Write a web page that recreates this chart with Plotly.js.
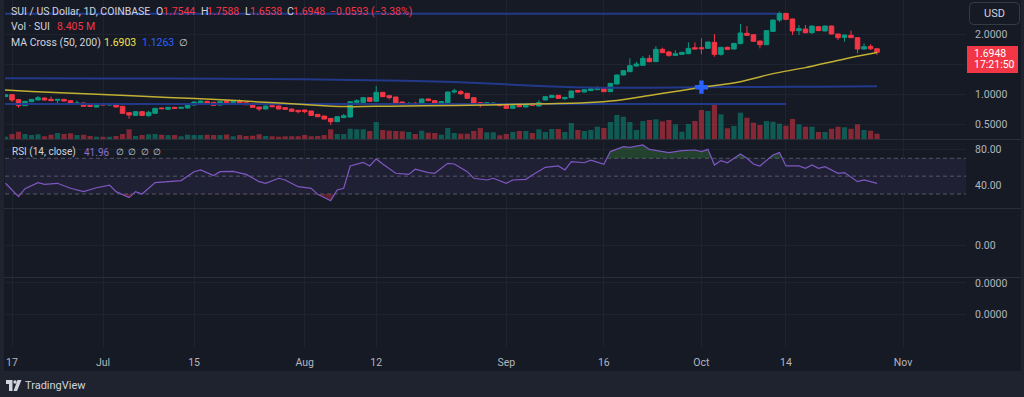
<!DOCTYPE html>
<html><head><meta charset="utf-8">
<script src="https://cdn.plot.ly/plotly-3.0.1.min.js"></script>
<style>html,body{margin:0;padding:0;background:#1f2330;overflow:hidden}#chart{width:1024px;height:397px}</style>
</head><body><div id="chart"></div>
<script>
// ---------- data ----------
const candleStartDay = -1; // first candle = 2024-06-16 (day offsets from 2024-06-17)
const open = [
0.956,0.989,0.906,0.806,0.872,0.900,0.933,0.911,0.895,0.911,
0.889,0.839,0.850,0.811,0.783,0.839,0.817,0.839,0.795,0.689,
0.644,0.706,0.639,0.678,0.767,0.745,0.778,0.761,0.767,0.817,
0.845,0.878,0.861,0.817,0.889,0.861,0.878,0.856,0.833,0.783,
0.750,0.806,0.800,0.772,0.750,0.728,0.733,0.717,0.661,0.633,
0.594,0.539,0.606,0.617,0.861,0.861,0.939,0.878,1.028,0.972,
0.950,0.867,0.822,0.845,0.833,0.917,0.889,0.856,0.856,1.033,
1.039,1.011,0.939,0.856,0.833,0.822,0.839,0.811,0.761,0.817,
0.783,0.833,0.800,0.900,0.944,0.978,0.922,0.939,1.061,1.033,
1.056,1.072,1.089,1.039,1.167,1.317,1.372,1.467,1.478,1.594,
1.539,1.744,1.700,1.644,1.661,1.672,1.772,1.772,1.761,1.861,
1.661,1.778,1.750,1.839,2.011,1.989,1.883,1.822,2.044,2.233,
2.344,2.250,2.056,2.083,2.022,2.122,2.050,2.133,2.000,1.944,
1.978,1.939,1.750,1.794,1.7544];
const high = [
0.995,1.000,0.910,0.885,0.917,0.967,0.945,0.956,0.917,0.917,
0.895,0.889,0.856,0.839,0.845,0.845,0.845,0.845,0.800,0.695,
0.710,0.710,0.720,0.767,0.778,0.789,0.783,0.783,0.830,0.872,
0.895,0.889,0.867,0.885,0.895,0.889,0.911,0.860,0.840,0.789,
0.806,0.817,0.806,0.780,0.756,0.733,0.739,0.720,0.667,0.639,
0.600,0.628,0.667,0.878,0.911,0.945,0.945,1.133,1.035,0.978,
0.956,0.872,0.867,0.867,0.922,0.922,0.895,0.878,1.040,1.089,
1.067,1.020,0.945,0.867,0.867,0.856,0.845,0.817,0.810,0.822,
0.839,0.855,0.900,0.960,0.983,0.983,0.950,1.055,1.067,1.078,
1.095,1.133,1.095,1.183,1.322,1.395,1.594,1.539,1.633,1.650,
1.800,1.772,1.720,1.728,1.700,1.861,1.861,1.928,1.872,2.000,
1.783,1.789,1.850,2.167,2.133,1.994,1.889,2.061,2.239,2.372,
2.350,2.255,2.150,2.150,2.139,2.128,2.139,2.139,2.006,1.989,
2.056,1.944,1.844,1.828,1.7588];
const low = [
0.950,0.867,0.772,0.800,0.865,0.895,0.895,0.883,0.828,0.878,
0.830,0.833,0.790,0.789,0.780,0.810,0.810,0.778,0.672,0.589,
0.640,0.640,0.622,0.672,0.745,0.740,0.750,0.755,0.760,0.810,
0.840,0.835,0.806,0.810,0.850,0.833,0.830,0.817,0.772,0.717,
0.745,0.783,0.745,0.740,0.706,0.678,0.678,0.640,0.617,0.578,
0.483,0.533,0.600,0.610,0.833,0.855,0.870,0.870,0.950,0.911,
0.835,0.817,0.817,0.822,0.828,0.885,0.845,0.850,0.850,1.011,
0.983,0.920,0.840,0.778,0.830,0.810,0.800,0.756,0.756,0.780,
0.780,0.805,0.795,0.895,0.940,0.920,0.900,0.935,1.025,1.028,
1.050,1.067,1.033,1.035,1.160,1.310,1.367,1.461,1.470,1.528,
1.533,1.683,1.620,1.640,1.655,1.667,1.745,1.661,1.755,1.622,
1.640,1.740,1.745,1.830,1.970,1.872,1.761,1.817,2.039,2.200,
2.230,1.983,1.983,2.010,2.000,2.050,2.044,1.994,1.900,1.872,
1.933,1.678,1.744,1.733,1.6538];
const close = [
0.989,0.900,0.806,0.878,0.911,0.939,0.900,0.889,0.911,0.883,
0.833,0.850,0.795,0.795,0.839,0.817,0.839,0.783,0.678,0.650,
0.706,0.644,0.695,0.761,0.756,0.778,0.761,0.778,0.822,0.867,
0.883,0.839,0.811,0.878,0.856,0.878,0.839,0.822,0.778,0.750,
0.800,0.789,0.750,0.745,0.711,0.706,0.706,0.644,0.622,0.583,
0.539,0.622,0.639,0.872,0.889,0.939,0.878,1.028,0.956,0.939,
0.844,0.822,0.839,0.828,0.917,0.889,0.850,0.872,1.033,1.050,
1.006,0.928,0.844,0.822,0.855,0.850,0.806,0.761,0.806,0.789,
0.828,0.811,0.856,0.956,0.978,0.928,0.944,1.050,1.033,1.072,
1.089,1.100,1.039,1.178,1.317,1.389,1.472,1.500,1.594,1.539,
1.744,1.689,1.644,1.672,1.694,1.761,1.750,1.755,1.867,1.661,
1.778,1.744,1.844,2.017,1.978,1.878,1.822,2.056,2.233,2.344,
2.244,2.050,2.089,2.022,2.133,2.056,2.133,2.000,1.939,1.983,
1.939,1.750,1.789,1.754,1.6948];
const volumeM = [
3.6,7.9,11.6,7.9,6.3,7.5,4.3,6.8,9.5,7.9,
9.0,6.3,6.8,4.8,3.6,3.6,3.6,4.8,7.9,15.4,
4.8,6.3,7.5,7.9,6.8,6.3,6.3,4.3,6.8,6.3,
6.3,6.8,6.3,6.3,7.1,4.3,6.3,4.8,5.2,7.5,
4.8,4.3,3.6,4.3,4.3,4.3,6.3,4.3,4.8,6.3,
15.4,7.9,7.9,16.3,15.4,15.4,12.7,27.0,14.3,13.2,
12.7,12.2,11.1,7.9,13.2,10.0,9.5,6.8,17.4,9.5,
8.4,8.4,12.7,17.4,10.6,10.6,5.9,7.9,11.1,12.7,
12.7,9.5,15.4,11.1,15.9,15.9,11.1,25.4,14.3,12.7,
14.3,19.5,17.4,27.0,38.1,35.4,27.0,14.3,28.5,30.1,
31.2,28.1,30.1,23.3,11.6,23.8,28.5,46.0,44.4,56.6,
39.2,17.0,20.6,41.7,33.8,25.9,22.2,28.5,27.4,24.3,
21.1,31.7,23.3,19.5,19.5,11.1,11.1,16.3,19.5,18.6,
16.3,23.3,14.3,13.2,8.405];

const ma50Day = [-1.1,3,13,24,33,38,43,48,52,58,68,78,88,93,98,103,106,112,117,122,128,133];
const ma50Val = [1.068,1.044,0.996,0.944,0.900,0.867,0.839,0.806,0.790,0.798,0.810,0.828,0.853,0.890,0.975,1.060,1.112,1.206,1.340,1.440,1.585,1.690];
const ma200Day = [-1.1,15,33,45,55,62,68,75,82,90,98,106,115,124,133];
const ma200Val = [1.262,1.260,1.255,1.245,1.230,1.215,1.200,1.165,1.130,1.105,1.105,1.112,1.118,1.123,1.128];

const rsiDay = [-1,0,1,2,4,5,7,9,11,13,15,16,18,19,20,22,24,26,28,29,31,32,34,36,38,39,41,42,44,46,47,49,50,51,52,54,55,56,57,58,59,61,62,64,65,67,68,70,71,73,74,76,77,79,80,82,84,85,86,88,89,91,92,94,95,97,98,101,103,105,106,107,108,109,110,112,113,114,115,117,118,119,121,122,123,124,125,127,128,130,131,133];
const rsiVal = [42,34.5,27,36,42.7,40.8,42,36.4,32.6,37,40,32.6,25.9,32.6,30,42.7,43.8,45,55,57,50.6,55,55.4,52,43.8,42,47.6,45.7,38.2,36.4,29.6,22.5,34.5,36.4,61.4,65.5,61.4,69.3,63.6,58.8,53.2,52,57.7,54,53.2,64.4,63.6,55,47.6,45.7,47.6,42,45.7,46.4,51.3,59.9,61.4,57,66.3,65,68,63.3,77.5,83,82.3,85,80,76.4,78.6,79.3,77.5,80,62.5,67.4,65,74.9,70,63.6,61.4,73.7,76.4,61.4,61.4,58.8,62.5,58.8,60.6,53.2,54,43.8,45.7,41.96];

const levelPrice = [2.338, 0.835];     // drawn horizontal lines
const levelEndDay = [117.6, 119];
const crossDay = [106], crossPrice = [1.114];

const tickDates = ['2024-06-17','2024-07-01','2024-07-15','2024-08-01','2024-08-12','2024-09-01','2024-09-16','2024-10-01','2024-10-14','2024-11-01'];
const tickText = ['17','Jul','15','Aug','12','Sep','16','Oct','14','Nov'];
const priceTicks = [0.5,1,1.5,2];
const priceTickText = ['0.5000','1.0000','','2.0000'];

// ---------- helpers ----------
const BASE = Date.UTC(2024,5,17);
function dayToStr(d){ return new Date(BASE + d*86400000).toISOString().replace('T',' ').slice(0,19); }
const L=5, R=966, B=347, W=R-L, H=B;
const px = p => (p-L)/W, py = p => (B-p)/H;
const FONT = 'Roboto, "Open Sans", sans-serif';
const UP='#089981', DN='#f23645', TXT='#d1d4dc', AX='#b2b5be', GRID='#1f2330', SEP='#2a2e39', BG='#161a25';

const dates = open.map((_,i)=>dayToStr(candleStartDay+i));
const volColors = open.map((o,i)=> close[i]>=o ? 'rgba(8,153,129,0.5)' : 'rgba(242,54,69,0.5)');

function clampSeries(xs, ys, level, above){
  const ox=[], oy=[];
  for(let i=0;i<xs.length;i++){
    if(i>0){
      const a=ys[i-1]-level, b=ys[i]-level;
      if(a*b<0){ const t=a/(a-b); ox.push(xs[i-1]+t*(xs[i]-xs[i-1])); oy.push(level); }
    }
    ox.push(xs[i]); oy.push(above?Math.max(ys[i],level):Math.min(ys[i],level));
  }
  return {x:ox.map(dayToStr), y:oy};
}
const ob = clampSeries(rsiDay, rsiVal, 70, true);
const os = clampSeries(rsiDay, rsiVal, 30, false);
const rsiX0 = dayToStr(rsiDay[0]), rsiX1 = dayToStr(rsiDay[rsiDay.length-1]);

const data = [
  {type:'bar', x:dates, y:volumeM, yaxis:'y', xaxis:'x', marker:{color:volColors, line:{width:0}}, hoverinfo:'skip'},
];
levelPrice.forEach((p,i)=>{
  data.push({type:'scatter', mode:'lines', x:[dayToStr(-1.2), dayToStr(levelEndDay[i])], y:[p,p], yaxis:'y5', line:{color:'#22398a', width:2}, hoverinfo:'skip'});
});
data.push({type:'scatter', mode:'lines', x:ma200Day.map(dayToStr), y:ma200Val, yaxis:'y5', line:{color:'#22398a', width:2, shape:'spline', smoothing:0.8}, hoverinfo:'skip'});
data.push({type:'scatter', mode:'lines', x:ma50Day.map(dayToStr), y:ma50Val, yaxis:'y5', line:{color:'#c2b032', width:1.5, shape:'spline', smoothing:0.8}, hoverinfo:'skip'});
data.push({type:'candlestick', x:dates, open, high, low, close, yaxis:'y5', xaxis:'x',
  increasing:{line:{color:UP,width:1}, fillcolor:UP}, decreasing:{line:{color:DN,width:1}, fillcolor:DN}, whiskerwidth:0, hoverinfo:'skip'});
data.push({type:'scatter', mode:'markers', x:crossDay.map(dayToStr), y:crossPrice, yaxis:'y5', marker:{symbol:'cross', size:11, color:'#2962ff', line:{width:0}}, hoverinfo:'skip'});
// RSI
data.push({type:'scatter', mode:'lines', x:[rsiX0,rsiX1], y:[70,70], yaxis:'y2', line:{width:0, color:'rgba(0,0,0,0)'}, hoverinfo:'skip'});
data.push({type:'scatter', mode:'lines', x:ob.x, y:ob.y, yaxis:'y2', fill:'tonexty', fillcolor:'rgba(67,160,71,0.3)', line:{width:0, color:'rgba(0,0,0,0)'}, hoverinfo:'skip'});
data.push({type:'scatter', mode:'lines', x:[rsiX0,rsiX1], y:[30,30], yaxis:'y2', line:{width:0, color:'rgba(0,0,0,0)'}, hoverinfo:'skip'});
data.push({type:'scatter', mode:'lines', x:os.x, y:os.y, yaxis:'y2', fill:'tonexty', fillcolor:'rgba(242,54,69,0.3)', line:{width:0, color:'rgba(0,0,0,0)'}, hoverinfo:'skip'});
data.push({type:'scatter', mode:'lines', x:rsiDay.map(dayToStr), y:rsiVal, yaxis:'y2', line:{color:'#7e57c2', width:1.2}, hoverinfo:'skip'});
data.push({type:'scatter', x:[], y:[], yaxis:'y3', hoverinfo:'skip'});
data.push({type:'scatter', x:[], y:[], yaxis:'y4', hoverinfo:'skip'});

const tickfont = {family:FONT, size:10.5, color:AX};
const dom = (a,b)=>[py(b), py(a)];
const yCommon = {side:'right', anchor:'x', showgrid:true, gridcolor:GRID, zeroline:false, showline:false,
  ticks:'outside', ticklen:6, tickcolor:'rgba(0,0,0,0)', tickfont, fixedrange:true};

function rr(x0,y0,x1,y1,r){
  return `M${px(x0+r)},${py(y0)} L${px(x1-r)},${py(y0)} Q${px(x1)},${py(y0)} ${px(x1)},${py(y0+r)} L${px(x1)},${py(y1-r)} Q${px(x1)},${py(y1)} ${px(x1-r)},${py(y1)} L${px(x0+r)},${py(y1)} Q${px(x0)},${py(y1)} ${px(x0)},${py(y1-r)} L${px(x0)},${py(y0+r)} Q${px(x0)},${py(y0)} ${px(x0+r)},${py(y0)} Z`;
}
function poly(pts){ return 'M'+pts.map(p=>px(p[0])+','+py(p[1])).join(' L')+' Z'; }

const shapes = [
  {type:'rect', xref:'paper', yref:'paper', x0:px(4), x1:px(1021), y0:py(371), y1:py(0), fillcolor:BG, line:{width:0}, layer:'below'},
  {type:'rect', xref:'paper', yref:'y2', x0:0, x1:1, y0:30, y1:70, fillcolor:'rgba(126,87,194,0.1)', line:{width:0}, layer:'below'},
];
[70,50,30].forEach(v=>shapes.push({type:'line', xref:'paper', yref:'y2', x0:0, x1:1, y0:v, y1:v, line:{color:'rgba(120,123,134,0.6)', width:1, dash:'4px,3px'}, layer:'below'}));
[139.5,208.5,277.5].forEach(v=>shapes.push({type:'line', xref:'paper', yref:'paper', x0:px(4), x1:px(1021), y0:py(v), y1:py(v), line:{color:SEP, width:1}}));
shapes.push({type:'rect', xref:'paper', yref:'paper', x0:px(967), x1:px(1018), y0:py(73), y1:py(46), fillcolor:'#f23645', line:{width:0}});
shapes.push({type:'path', xref:'paper', yref:'paper', path:rr(969.5,2.5,1019.5,24.5,4), fillcolor:BG, line:{color:'#363a45', width:1}});
// TradingView logo mark
shapes.push({type:'path', xref:'paper', yref:'paper', path:poly([[6,380],[12.5,380],[12.5,391],[9,391],[9,384],[6,384]]), fillcolor:TXT, line:{width:0}});
shapes.push({type:'circle', xref:'paper', yref:'paper', x0:px(13.3), x1:px(16.7), y0:py(383.7), y1:py(380.3), fillcolor:TXT, line:{width:0}});
shapes.push({type:'path', xref:'paper', yref:'paper', path:poly([[17.5,380],[21.5,380],[17,391],[13.5,391]]), fillcolor:TXT, line:{width:0}});

function ann(text, x, y, color, size, xanchor){
  return {text, x:px(x), y:py(y), xref:'paper', yref:'paper', xanchor:xanchor||'left', yanchor:'middle', showarrow:false,
    font:{family:FONT, size:size||10.5, color:color||TXT}, borderpad:0};
}
const RED='#f23645';
const annotations = [
  ann('SUI / US Dollar, 1D, COINBASE', 10, 11.7),
  ann('O',155,11.7), ann('1.7544',162,11.7,RED),
  ann('H',200,11.7), ann('1.7588',206,11.7,RED),
  ann('L',244,11.7), ann('1.6538',249,11.7,RED),
  ann('C',286,11.7), ann('1.6948',292,11.7,RED),
  ann('−0.0593 (−3.38%)',329,11.7,RED),
  ann('Vol · SUI',10,26.5), ann('8.405 M',56,26.5,RED),
  ann('MA Cross (50, 200)',10,42.3), ann('1.6903',103,42.3,'#f2e14c'), ann('1.1263',141,42.3,'#2962ff'), ann('∅',178,42.3,TXT,9.5),
  ann('RSI (14, close)',11,152,TXT,10), ann('41.96',83,152,'#8e6fd0',10), ann('∅  ∅  ∅  ∅',115,152,TXT,9),
  ann('USD',994.5,13.5,TXT,11,'center'),
  ann('1.6948',973,53,'#ffffff',10.5), ann('17:21:50',973,64,'#ffffff',10.5),
  ann('TradingView',24,385.5,TXT,11),
];

const layout = {
  width:1024, height:397, margin:{l:5, r:58, t:0, b:50, pad:0},
  paper_bgcolor:'#1f2330', plot_bgcolor:'rgba(0,0,0,0)', showlegend:false,
  bargap:0.2, boxgap:0.3, boxgroupgap:0, hovermode:false, dragmode:false,
  xaxis:{type:'date', anchor:'y4', range:[dayToStr(-1.076), dayToStr(146.68)], tickvals:tickDates, ticktext:tickText,
    showgrid:true, gridcolor:GRID, zeroline:false, showline:false, ticks:'outside', ticklen:5, tickcolor:'rgba(0,0,0,0)',
    tickfont, rangeslider:{visible:false}, fixedrange:true},
  yaxis:{domain:dom(0,139), range:[0, 139*1.586], visible:false, fixedrange:true, anchor:'x'},
  yaxis5:Object.assign({}, yCommon, {overlaying:'y', range:[0.2505, 2.5667], tickvals:priceTicks, ticktext:priceTickText}),
  yaxis2:Object.assign({}, yCommon, {domain:dom(140,208), range:[14.3, 90.5], tickvals:[40,80], ticktext:['40.00','80.00']}),
  yaxis3:Object.assign({}, yCommon, {domain:dom(209,277), range:[-0.47, 0.53], tickvals:[0], ticktext:['0.00']}),
  yaxis4:Object.assign({}, yCommon, {domain:dom(278,347), range:[0, 1], tickvals:[0.478, 0.928], ticktext:['0.0000','0.0000']}),
  shapes, annotations
};
Plotly.newPlot('chart', data, layout, {staticPlot:true, displayModeBar:false});
</script></body></html>
